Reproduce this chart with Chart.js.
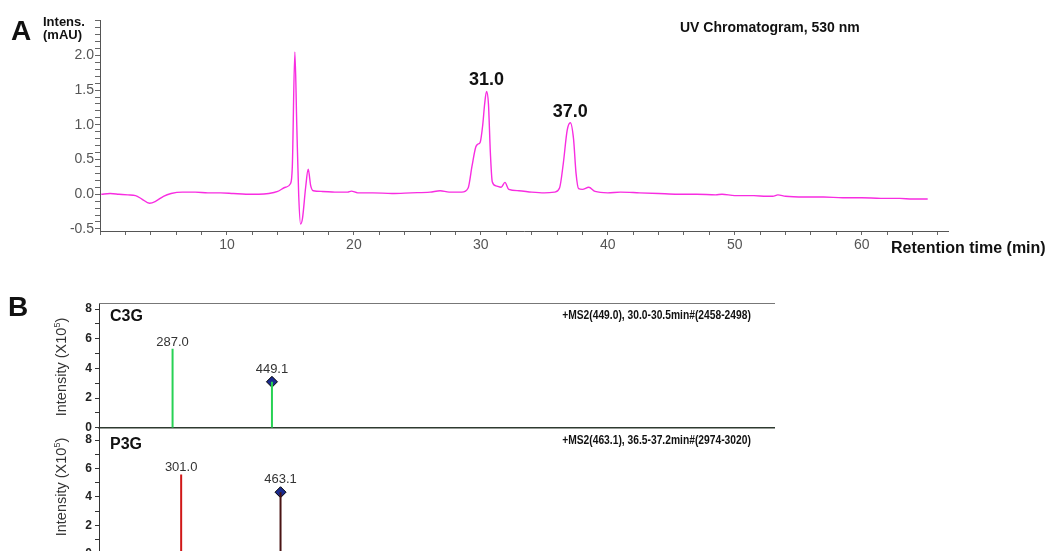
<!DOCTYPE html>
<html>
<head>
<meta charset="utf-8">
<script src="https://cdn.jsdelivr.net/npm/chart.js@4.4.1/dist/chart.umd.min.js"></script>
<style>
  body { margin: 0; background: #fff; }
  #page { position: relative; width: 1051px; height: 551px; overflow: hidden; font-family: 'Liberation Sans', Arial, sans-serif; }
  canvas { position: absolute; left: 0; }
  .t { position: absolute; white-space: nowrap; color: #111; line-height: 1; }
  .narrow { font-weight: bold; font-size: 13px; transform: scaleX(0.79); transform-origin: right center; }
  .ylab { font-size: 14.5px; color: #333; transform: translate(-50%, -50%) rotate(-90deg); }
  .ylab sup { font-size: 9px; vertical-align: 6px; }
</style>
</head>
<body>
<div id="page">
  <canvas id="uv" width="1051" height="260" style="top:0"></canvas>
  <canvas id="ms1" width="1051" height="145" style="top:293px"></canvas>
  <canvas id="ms2" width="1051" height="147" style="top:417px"></canvas>

  <div class="t" style="left:11px;top:17px;font-size:28px;font-weight:bold">A</div>
  <div class="t" style="left:43px;top:15px;font-size:13px;font-weight:bold;line-height:13px">Intens.<br>(mAU)</div>
  <div class="t" style="left:680px;top:20px;font-size:14px;font-weight:bold">UV Chromatogram, 530 nm</div>
  <div class="t" style="left:891px;top:240px;font-size:16px;font-weight:bold">Retention time (min)</div>

  <div class="t" style="left:8px;top:293px;font-size:28px;font-weight:bold">B</div>
  <div class="t" style="left:110px;top:308px;font-size:16px;font-weight:bold">C3G</div>
  <div class="t" style="left:110px;top:436px;font-size:16px;font-weight:bold">P3G</div>
  <div class="t narrow" style="right:300px;top:308px">+MS2(449.0), 30.0-30.5min#(2458-2498)</div>
  <div class="t narrow" style="right:300px;top:433px">+MS2(463.1), 36.5-37.2min#(2974-3020)</div>
  <div class="t ylab" style="left:61px;top:367px">Intensity (X10<sup>5</sup>)</div>
  <div class="t ylab" style="left:61px;top:487px">Intensity (X10<sup>5</sup>)</div>
</div>
<script>
// UV chromatogram at 530 nm (retention time in min, intensity in mAU)
const rtMin = [
  0.1, 0.8, 1.5, 2.2, 2.8, 3.3, 3.9, 4.4, 5.0, 5.6,
  6.5, 7.5, 8.5, 9.5, 10.5, 11.5, 12.5, 13.3, 14.0, 14.6,
  15.0, 15.15, 15.35, 15.5, 15.65, 15.8, 15.95, 16.2, 16.4, 16.6,
  16.8, 17.5, 18.5, 19.5, 19.8, 20.3, 21.5, 23.0, 24.5, 26.0,
  26.8, 27.5, 28.5, 29.0, 29.3, 29.6, 29.75, 29.95, 30.15, 30.3,
  30.45, 30.6, 30.75, 30.9, 31.2, 31.6, 31.9, 32.2, 33.0, 34.0,
  35.0, 35.8, 36.2, 36.5, 36.8, 37.05, 37.3, 37.5, 37.7, 38.0,
  38.5, 39.0, 40.0, 41.0, 42.5, 44.0, 45.5, 47.0, 48.5, 49.0,
  50.0, 51.5, 52.5, 53.0, 53.4, 54.0, 55.5, 57.0, 58.5, 60.0,
  61.5, 63.0, 64.0, 65.2
];
const uvMau = [
  0.00, 0.01, 0.00, -0.01, -0.02, -0.07, -0.13, -0.10, -0.03, 0.01,
  0.03, 0.03, 0.02, 0.02, 0.01, 0.00, 0.00, 0.01, 0.04, 0.10,
  0.15, 0.40, 2.05, 1.00, 0.00, -0.43, -0.35, 0.10, 0.36, 0.12,
  0.05, 0.04, 0.03, 0.03, 0.045, 0.02, 0.02, 0.01, 0.02, 0.03,
  0.05, 0.03, 0.03, 0.09, 0.40, 0.68, 0.72, 0.75, 1.00, 1.30,
  1.48, 1.30, 0.60, 0.18, 0.12, 0.10, 0.17, 0.07, 0.05, 0.03,
  0.02, 0.03, 0.09, 0.45, 0.92, 1.03, 0.80, 0.30, 0.08, 0.07,
  0.10, 0.04, 0.02, 0.03, 0.02, 0.01, 0.00, 0.00, -0.01, 0.00,
  -0.02, -0.02, -0.03, -0.03, -0.01, -0.03, -0.04, -0.04, -0.05, -0.05,
  -0.06, -0.06, -0.07, -0.07
];
const peakRt = [30.45, 37.05];
const peakMau = [1.48, 1.03];
const peakText = ['31.0', '37.0'];

const uvXLabels = [10, 20, 30, 40, 50, 60];
const uvYLabels = [-0.5, 0.0, 0.5, 1.0, 1.5, 2.0];

// MS2 spectra (m/z, intensity x10^5); last entry is the precursor ion
const c3gMz = [287.0, 449.1];
const c3gIntensity = [5.33, 3.10];
const p3gMz = [301.0, 463.1];
const p3gIntensity = [5.58, 4.33];
const msYLabels = [0, 2, 4, 6, 8];

function fixTicks(values) {
  return scale => { scale.ticks = values.map(v => ({ value: v })); };
}
function range(from, to, step) {
  const out = [];
  for (let v = from; v <= to + 1e-9; v += step) out.push(Math.round(v * 100) / 100);
  return out;
}

function textPlugin(id, xs, ys, texts, font, color, gap) {
  return {
    id: id,
    afterDatasetsDraw(chart) {
      const { ctx, scales } = chart;
      ctx.save();
      ctx.font = font;
      ctx.fillStyle = color;
      ctx.textAlign = 'center';
      ctx.textBaseline = 'alphabetic';
      xs.forEach((v, i) => {
        const px = scales.x.getPixelForValue(v);
        const py = scales.y.getPixelForValue(ys[i]) - gap[i];
        ctx.fillText(texts[i], px, py);
      });
      ctx.restore();
    }
  };
}

const tickFont = { family: "'Liberation Sans', Arial, sans-serif", size: 14 };

new Chart(document.getElementById('uv'), {
  type: 'line',
  data: {
    datasets: [{
      data: rtMin.map((t, i) => ({ x: t, y: uvMau[i] })),
      borderColor: 'rgb(248, 45, 225)',
      borderWidth: 1.4,
      pointRadius: 0,
      cubicInterpolationMode: 'monotone'
    }]
  },
  options: {
    responsive: false,
    animation: false,
    layout: { padding: { top: 20, right: 103, left: 0, bottom: 0 } },
    plugins: { legend: { display: false }, tooltip: { enabled: false } },
    scales: {
      x: {
        type: 'linear', min: 0, max: 66.8,
        afterBuildTicks: fixTicks(range(0, 66, 2)),
        afterFit: s => { s.height = 29; },
        grid: { drawOnChartArea: false, tickLength: 4, color: '#666' },
        border: { color: '#555', width: 1 },
        ticks: {
          font: tickFont, color: '#555', padding: 2, maxRotation: 0, autoSkip: false,
          callback: v => uvXLabels.includes(v) ? String(v) : ''
        }
      },
      y: {
        type: 'linear', min: -0.53, max: 2.51,
        afterBuildTicks: fixTicks(range(-0.5, 2.5, 0.1)),
        afterFit: s => { s.width = 100; },
        grid: { drawOnChartArea: false, tickLength: 5, color: '#666' },
        border: { color: '#555', width: 1 },
        ticks: {
          font: tickFont, color: '#555', padding: 1, autoSkip: false,
          callback: v => uvYLabels.some(l => Math.abs(l - v) < 1e-6) ? v.toFixed(1) : ''
        }
      }
    }
  },
  plugins: [textPlugin('peaks', peakRt, peakMau, peakText, "bold 18px 'Liberation Sans', Arial, sans-serif", '#111', [6, 6])]
});

function msChart(canvasId, mz, intensity, colors, yMax, padTop, xHeight, withTop) {
  const stems = mz.map((m, i) => ({
    type: 'line',
    data: [{ x: m, y: 0 }, { x: m, y: intensity[i] }],
    borderColor: colors[i],
    borderWidth: 2,
    pointRadius: 0
  }));
  const last = mz.length - 1;
  stems.push({
    type: 'scatter',
    data: [{ x: mz[last], y: intensity[last] }],
    pointStyle: 'rectRot',
    pointRadius: 5.5,
    backgroundColor: '#1b2b8f',
    borderColor: '#000',
    borderWidth: 1
  });
  const scales = {
    x: {
      type: 'linear', min: 167, max: 1268,
      afterFit: s => { s.height = xHeight; },
      grid: { drawOnChartArea: false, drawTicks: false },
      border: { color: '#2e3a30', width: 1.5 },
      ticks: { display: false }
    },
    y: {
      type: 'linear', min: 0, max: yMax,
      afterBuildTicks: fixTicks(range(0, 8, 1)),
      afterFit: s => { s.width = 99; },
      grid: { drawOnChartArea: false, tickLength: 4, color: '#333' },
      border: { color: '#333', width: 1 },
      ticks: {
        font: { family: "'Liberation Sans', Arial, sans-serif", size: 12, weight: 'bold' },
        color: '#222', padding: 3, autoSkip: false,
        callback: v => msYLabels.includes(v) ? String(v) : ''
      }
    }
  };
  if (withTop) {
    scales.xTop = {
      type: 'linear', position: 'top', min: 167, max: 1268,
      afterFit: s => { s.height = 0; },
      grid: { drawOnChartArea: false, drawTicks: false },
      border: { color: '#777', width: 1 },
      ticks: { display: false }
    };
  }
  const texts = mz.map(m => m.toFixed(1));
  const gaps = mz.map((m, i) => i === last ? 9 : 3);
  return new Chart(document.getElementById(canvasId), {
    type: 'line',
    data: { datasets: stems },
    options: {
      responsive: false,
      animation: false,
      layout: { padding: { top: padTop, right: 277, left: 0, bottom: 0 } },
      plugins: { legend: { display: false }, tooltip: { enabled: false } },
      scales: scales
    },
    plugins: [textPlugin(canvasId + 'Labels', mz, intensity, texts, "13px 'Liberation Sans', Arial, sans-serif", '#333', gaps)]
  });
}

msChart('ms1', c3gMz, c3gIntensity, ['#27d254', '#27d254'], 8.4, 10, 3, true);
msChart('ms2', p3gMz, p3gIntensity, ['#d01818', '#4a1414'], 8.9, 10, 7, false);
</script>
</body>
</html>
